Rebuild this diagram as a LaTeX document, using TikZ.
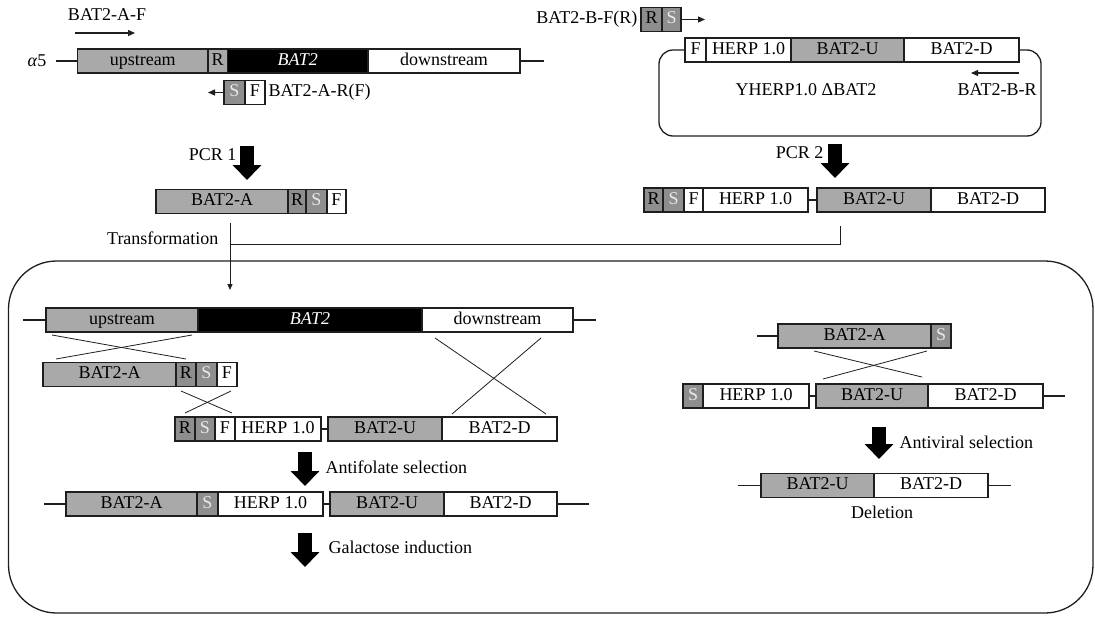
\documentclass[tikz,border=0pt]{standalone}
\usepackage{fontspec}
\setmainfont{Liberation Serif}
\usetikzlibrary{arrows.meta,calc}

\definecolor{genegray}{HTML}{A9A9A9}
\definecolor{taggray}{HTML}{8E8E8E}
\definecolor{stext}{HTML}{E8E8E8}
\definecolor{ink}{HTML}{1E1E1E}

% one segment of a construct: name, left x, right x, centre y, style, text
\newcommand{\genseg}[6]{%
  \node[segbox,#5,minimum width={#3pt-#2pt}] (#1) at ({(#2+#3)/2},#4) {#6};}

\begin{document}
\begin{tikzpicture}[x=1pt, y=-1pt,
    every node/.style={font=\fontsize{18}{21}\selectfont},
    segbox/.style={draw=ink, line width=1.2pt, inner sep=0pt, outer sep=0pt,
      minimum height=24pt, text height=12pt, text depth=3.5pt},
    tagbox/.style={fill=taggray, text=stext},
    batbox/.style={fill=black, text=white, font=\fontsize{18}{21}\selectfont\itshape},
    dnaline/.style={draw=ink, line width=1.3pt},
    thinline/.style={draw=ink, line width=1pt},
    crossline/.style={draw=ink, line width=0.8pt},
    primer/.style={draw=ink, line width=1.2pt, -{Triangle[length=7pt,width=6pt]}},
    fatarrow/.style={draw=black, line width=14pt, -{Triangle[length=15pt,width=28pt]}}]
    \useasboundingbox (0,0) rectangle (1095,616);

    % --- alpha5 locus ---
    \node (a5) at (37,61) {\textit{α}5};
    \genseg{tup}{77.5}{208}{61}{fill=genegray}{upstream}
    \genseg{tr}{208}{227.5}{61}{fill=genegray}{R}
    \genseg{tbat}{227.5}{368}{61}{batbox}{BAT2}
    \genseg{tdown}{368}{520}{61}{fill=white}{downstream}
    \draw[dnaline] (tup.west) -- ++(-21.5,0);
    \draw[dnaline] (tdown.east) -- ++(23.5,0);

    % --- primers A ---
    \node (paf) at (107,15) {BAT2-A-F};
    \coordinate (pafs) at (75,33);
    \draw[primer] (pafs) -- ++(60,0);
    \genseg{pars}{224}{245}{92.5}{tagbox}{S}
    \genseg{parf}{245}{265}{92.5}{fill=white}{F}
    \draw[primer] (pars.west) -- ++(-16,0);
    \node[anchor=west] (parl) at (parf.east) {BAT2-A-R(F)};

    % --- primers B and plasmid ---
    \genseg{pbfr}{641}{662}{19.5}{fill=taggray}{R}
    \genseg{pbfs}{662}{681}{19.5}{tagbox}{S}
    \draw[primer] (pbfs.east) -- ++(24,0);
    \node[anchor=east] (pbfl) at (pbfr.west) {BAT2-B-F(R)};

    \draw[dnaline, rounded corners=14pt] (659,50) rectangle (1041,136);
    \genseg{pf}{685}{706}{50}{fill=white}{F}
    \genseg{pherp}{706}{791}{50}{fill=white}{HERP 1.0}
    \genseg{pu}{791}{904}{50}{fill=genegray}{BAT2-U}
    \genseg{pd}{904}{1019}{50}{fill=white}{BAT2-D}
    \draw[primer] ($(pd.south east)+(0,11)$) -- ++(-48,0);
    \node (pbr) at (997,90) {BAT2-B-R};
    \node (yherp) at (806,90) {YHERP1.0 ΔBAT2};

    % --- PCR 1 ---
    \node[anchor=east] (pcr1) at (240,155) {PCR 1};
    \draw[fatarrow] (247,146) -- (247,180);
    \genseg{ka}{156}{288}{201.5}{fill=genegray}{BAT2-A}
    \genseg{kr}{288}{306}{201.5}{fill=taggray}{R}
    \genseg{ks}{306}{327}{201.5}{tagbox}{S}
    \genseg{kf}{327}{346}{201.5}{fill=white}{F}

    % --- PCR 2 ---
    \node[anchor=east] (pcr2) at (827,153) {PCR 2};
    \draw[fatarrow] (835,144) -- (835,178);
    \genseg{mr}{644}{663}{200}{fill=taggray}{R}
    \genseg{ms}{663}{684}{200}{tagbox}{S}
    \genseg{mf}{684}{703}{200}{fill=white}{F}
    \genseg{mherp}{703}{808}{200}{fill=white}{HERP 1.0}
    \genseg{mu}{817}{931}{200}{fill=genegray}{BAT2-U}
    \genseg{md}{931}{1045}{200}{fill=white}{BAT2-D}
    \draw[dnaline] (mherp.east) -- (mu.west);

    % --- transformation ---
    \node[anchor=east] (trans) at (222,238) {Transformation};
    \coordinate (tjoin) at (230,244);
    \coordinate (ttop) at (230,223);
    \coordinate (tend) at (230,290);
    \coordinate (mjoin) at (840,226);
    \draw[thinline] (mjoin) |- (tjoin);
    \draw[thinline, -{Triangle[length=6pt,width=5pt]}] (ttop) -- (tend);

    % --- cell ---
    \draw[dnaline, rounded corners=48pt] (8.5,261) rectangle (1093,613);

    % --- left: integration ---
    \genseg{lup}{46}{198}{320}{fill=genegray}{upstream}
    \genseg{lbat}{198}{422}{320}{batbox}{BAT2}
    \genseg{ldown}{422}{573}{320}{fill=white}{downstream}
    \draw[dnaline] (lup.west) -- ++(-23,0);
    \draw[dnaline] (ldown.east) -- ++(23,0);
    \draw[crossline] (52,335) -- (186,359);
    \draw[crossline] (192,335) -- (56,359);

    \genseg{la}{43}{176}{374.5}{fill=genegray}{BAT2-A}
    \genseg{lr}{176}{196}{374.5}{fill=taggray}{R}
    \genseg{ls}{196}{217}{374.5}{tagbox}{S}
    \genseg{lf}{217}{237}{374.5}{fill=white}{F}
    \draw[crossline] (181,391) -- (232,413);
    \draw[crossline] (231,391) -- (185,413);
    \draw[crossline] (435,338) -- (546,414);
    \draw[crossline] (541,338) -- (452,414);

    \genseg{nr}{175}{195}{429}{fill=taggray}{R}
    \genseg{ns}{195}{215}{429}{tagbox}{S}
    \genseg{nf}{215}{235}{429}{fill=white}{F}
    \genseg{nherp}{235}{321}{429}{fill=white}{HERP 1.0}
    \genseg{nu}{328}{442}{429}{fill=genegray}{BAT2-U}
    \genseg{nd}{442}{557}{429}{fill=white}{BAT2-D}
    \draw[dnaline] (nherp.east) -- (nu.west);

    \draw[fatarrow] (305,452) -- (305,486);
    \node[anchor=west] (antifol) at (322,467) {Antifolate selection};

    \genseg{fa}{66}{197}{504}{fill=genegray}{BAT2-A}
    \genseg{fs}{197}{218}{504}{tagbox}{S}
    \genseg{fherp}{218}{323}{504}{fill=white}{HERP 1.0}
    \genseg{fu}{330}{444}{504}{fill=genegray}{BAT2-U}
    \genseg{fd}{444}{557}{504}{fill=white}{BAT2-D}
    \draw[dnaline] (fa.west) -- ++(-22,0);
    \draw[dnaline] (fherp.east) -- (fu.west);
    \draw[dnaline] (fd.east) -- ++(32,0);

    \draw[fatarrow] (305,533) -- (305,567);
    \node[anchor=west] (galact) at (325,547) {Galactose induction};

    % --- right: pop-out ---
    \genseg{ra}{778}{931}{336}{fill=genegray}{BAT2-A}
    \genseg{rs}{931}{951}{336}{tagbox}{S}
    \draw[dnaline] (ra.west) -- ++(-21,0);
    \draw[crossline] (814,351) -- (922,377);
    \draw[crossline] (927,351) -- (823,379);

    \genseg{qs}{683}{703}{396}{tagbox}{S}
    \genseg{qherp}{703}{809}{396}{fill=white}{HERP 1.0}
    \genseg{qu}{816}{928}{396}{fill=genegray}{BAT2-U}
    \genseg{qd}{928}{1043}{396}{fill=white}{BAT2-D}
    \draw[dnaline] (qherp.east) -- (qu.west);
    \draw[dnaline] (qd.east) -- ++(22,0);

    \draw[fatarrow] (879,427) -- (879,459);
    \node[anchor=west] (antivir) at (896,442) {Antiviral selection};

    \genseg{du}{761}{874}{485.5}{fill=genegray}{BAT2-U}
    \genseg{dd}{874}{988}{485.5}{fill=white}{BAT2-D}
    \draw[dnaline] (du.west) -- ++(-23,0);
    \draw[dnaline] (dd.east) -- ++(23,0);
    \node (del) at (882,512) {Deletion};

\end{tikzpicture}
\end{document}
